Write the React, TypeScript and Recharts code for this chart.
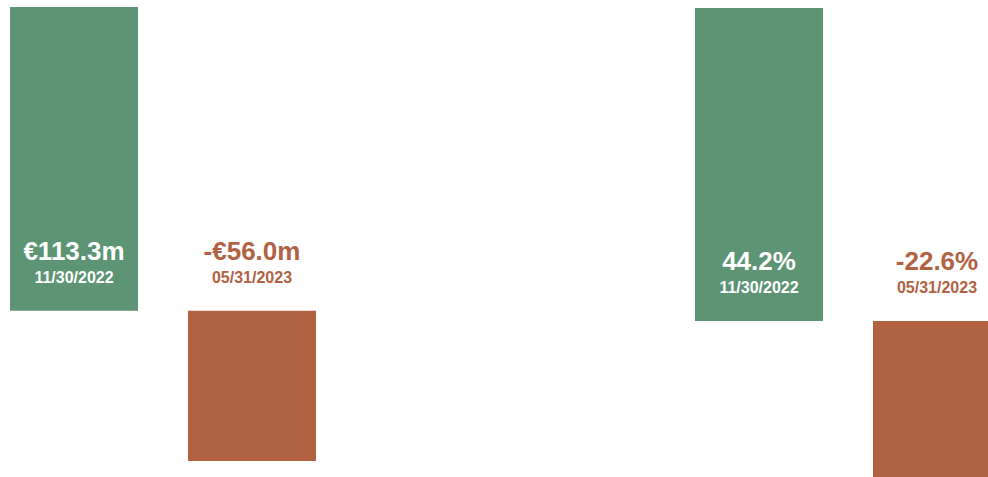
import React from "react";
import { BarChart, Bar, XAxis, YAxis, Cell, LabelList } from "recharts";

const DATES = ["11/30/2022", "05/31/2023"];
const AMOUNT_VALUES = [113.3, -56.0];
const RETURN_VALUES = [44.2, -22.6];

const GREEN = "#5c9474";
const RUST = "#b06243";
const FONT = '"Liberation Sans", Arial, Helvetica, sans-serif';

const fmtAmount = (v: number) => (v < 0 ? "-" : "") + "€" + Math.abs(v).toFixed(1) + "m";
const fmtPct = (v: number) => v.toFixed(1) + "%";

type Row = { date: string; value: number };

function makeLabel(fmt: (v: number) => string) {
  return (props: any) => {
    const vb = props.viewBox || {};
    const x = vb.x ?? props.x;
    const y = vb.y ?? props.y;
    const w = vb.width ?? props.width;
    const h = vb.height ?? props.height;
    const value = Number(props.value);
    const idx = props.index ?? 0;
    if (x == null || y == null) return null;
    // baseline (zero) is the top edge of a negative bar and the bottom edge of a positive one
    const zero = value >= 0 ? Math.max(y, y + h) : Math.min(y, y + h);
    const cx = x + w / 2;
    const fill = value >= 0 ? "#ffffff" : RUST;
    return (
      <g>
        <text x={cx} y={zero - 60} textAnchor="middle" dominantBaseline="central"
          fill={fill} fontFamily={FONT} fontWeight={700} fontSize={26}>
          {fmt(value)}
        </text>
        <text x={cx} y={zero - 33} textAnchor="middle" dominantBaseline="central"
          fill={fill} fontFamily={FONT} fontWeight={700} fontSize={16}>
          {DATES[idx]}
        </text>
      </g>
    );
  };
}

function PairChart({ values, fmt, height, top, bottom }: {
  values: number[]; fmt: (v: number) => string; height: number; top: number; bottom: number;
}) {
  const data: Row[] = DATES.map((d, i) => ({ date: d, value: values[i] }));
  const lo = Math.min(...values);
  const hi = Math.max(...values);
  return (
    <BarChart width={356} height={height} data={data} margin={{ top, right: 0, bottom, left: 0 }}>
      <XAxis dataKey="date" hide />
      <YAxis type="number" domain={[lo, hi]} hide />
      <Bar dataKey="value" barSize={128} isAnimationActive={false}>
        {data.map((r) => <Cell key={r.date} fill={r.value >= 0 ? GREEN : RUST} />)}
        <LabelList dataKey="value" content={makeLabel(fmt)} />
      </Bar>
    </BarChart>
  );
}

export default function App() {
  return (
    <div style={{ position: "absolute", top: 0, left: 0, width: 988, height: 477, overflow: "hidden", background: "#fff" }}>
      <div style={{ position: "absolute", left: -15, top: 0 }}>
        <PairChart values={AMOUNT_VALUES} fmt={fmtAmount} height={477} top={7} bottom={16} />
      </div>
      <div style={{ position: "absolute", left: 670, top: 0 }}>
        <PairChart values={RETURN_VALUES} fmt={fmtPct} height={490} top={8} bottom={9} />
      </div>
    </div>
  );
}
